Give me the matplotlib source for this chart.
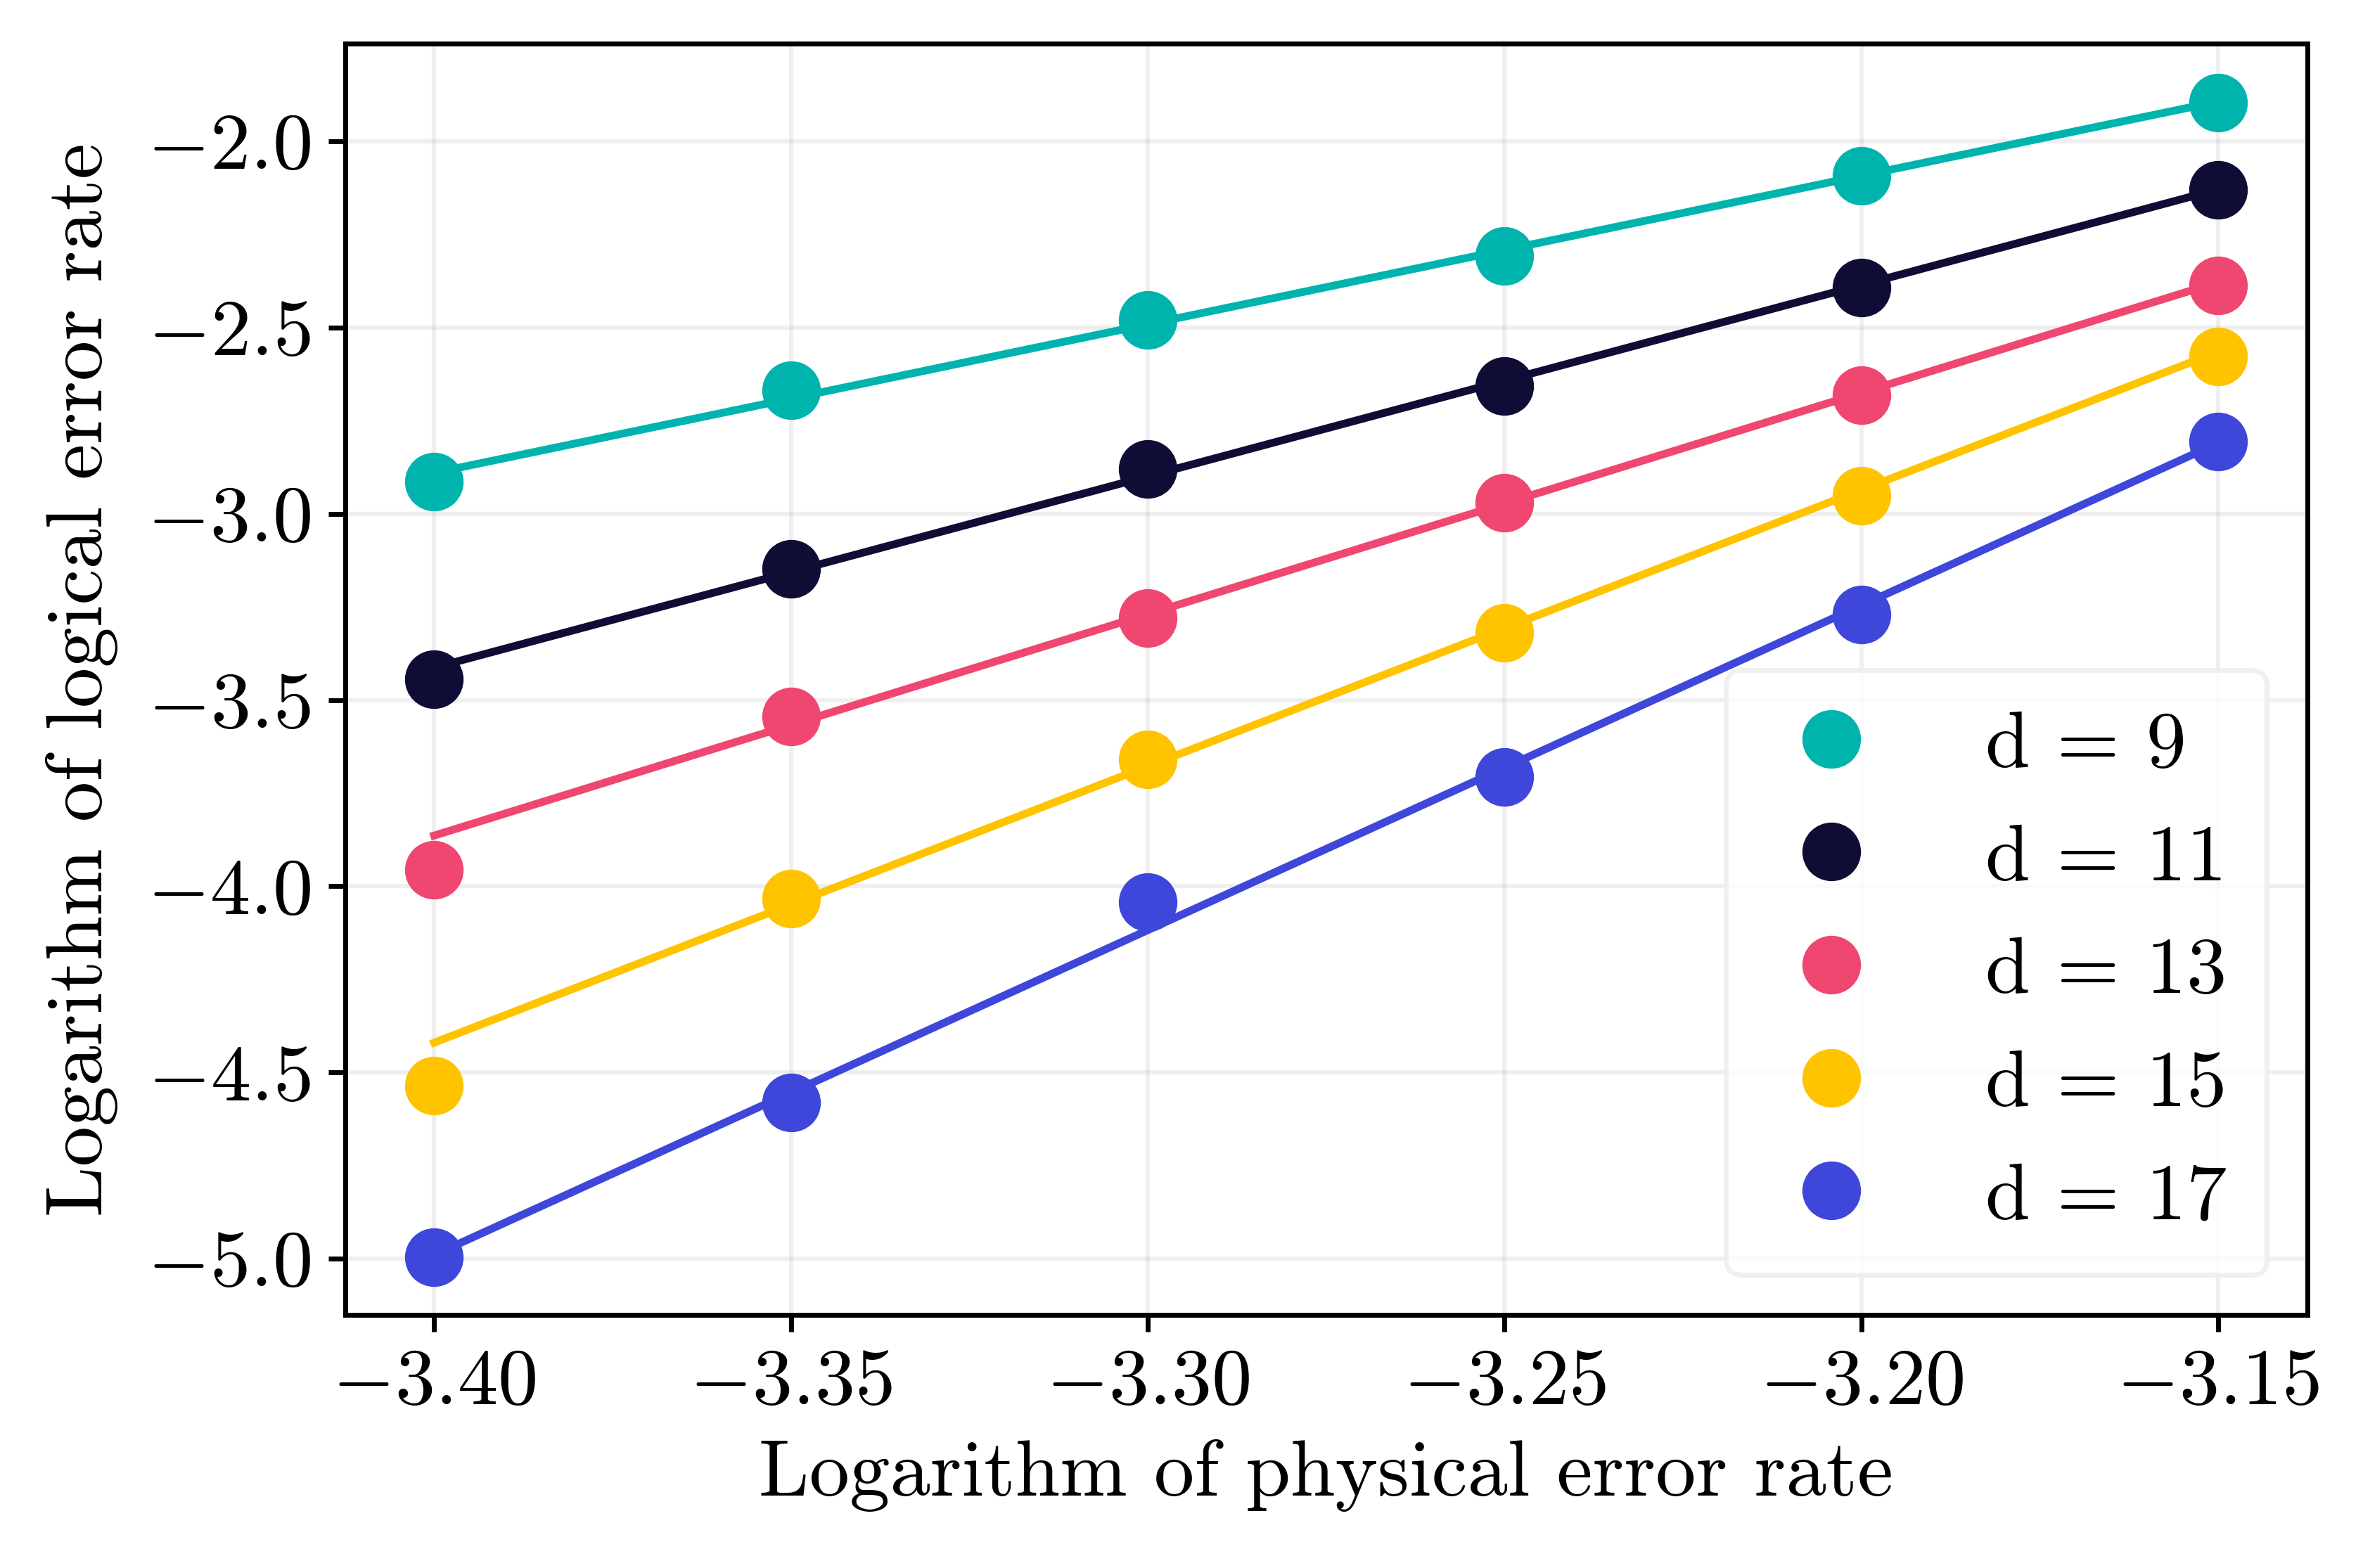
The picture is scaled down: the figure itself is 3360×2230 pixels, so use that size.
import numpy as np
import matplotlib
matplotlib.use("Agg")
import matplotlib.pyplot as plt

plt.rcParams['font.family'] = 'serif'
plt.rcParams['font.serif'] = ['cmr10']
plt.rcParams['mathtext.fontset'] = 'cm'
plt.rcParams['axes.formatter.use_mathtext'] = True
plt.rcParams['axes.unicode_minus'] = True

# Data
x = [-3.40, -3.35, -3.30, -3.25, -3.20, -3.15]
labels = ["d = 9", "d = 11", "d = 13", "d = 15", "d = 17"]
y_d9 = [-2.913, -2.669, -2.480, -2.307, -2.093, -1.896]
y_d11 = [-3.444, -3.147, -2.880, -2.656, -2.393, -2.131]
y_d13 = [-3.956, -3.544, -3.280, -2.971, -2.682, -2.387]
y_d15 = [-4.536, -4.033, -3.660, -3.320, -2.951, -2.578]
y_d17 = [-4.996, -4.580, -4.042, -3.707, -3.271, -2.807]
# fitted line values at x = -3.40 and x = -3.15
fit_x = [-3.40, -3.15]
fit_d9 = [-2.890, -1.893]
fit_d11 = [-3.413, -2.129]
fit_d13 = [-3.864, -2.378]
fit_d15 = [-4.420, -2.565]
fit_d17 = [-4.990, -2.810]
colors = ["#00B4AE", "#0F0D35", "#EF476F", "#FFC300", "#3E47D9"]

series = [y_d9, y_d11, y_d13, y_d15, y_d17]
fits = [fit_d9, fit_d11, fit_d13, fit_d15, fit_d17]

FS = 16.5
fig = plt.figure(figsize=(6.72, 4.46), dpi=500)
ax = fig.add_axes([0.146, 0.1614, 0.8304, 0.8107])

for ys, fy, c, lab in zip(series, fits, colors, labels):
    ax.plot(fit_x, fy, color=c, lw=1.6, zorder=2)
    ax.plot(x, ys, 'o', color=c, markersize=11, label=lab, zorder=3, linestyle='none')

ax.grid(True, color='#b0b0b0', alpha=0.2, lw=0.9)
ax.set_axisbelow(True)
ax.set_xticks([-3.40, -3.35, -3.30, -3.25, -3.20, -3.15])
ax.set_xticklabels([r"$-3.40$", r"$-3.35$", r"$-3.30$", r"$-3.25$", r"$-3.20$", r"$-3.15$"])
ax.set_yticks([-5.0, -4.5, -4.0, -3.5, -3.0, -2.5, -2.0])
ax.set_yticklabels([r"$-5.0$", r"$-4.5$", r"$-4.0$", r"$-3.5$", r"$-3.0$", r"$-2.5$", r"$-2.0$"])
ax.tick_params(labelsize=FS, width=1.0, length=3.5)
for s in ax.spines.values():
    s.set_linewidth(1.0)
ax.set_xlabel("Logarithm of physical error rate", fontsize=FS, labelpad=4)
ax.set_ylabel("Logarithm of logical error rate", fontsize=FS, labelpad=6)

leg = ax.legend(loc='lower right', fontsize=FS, handlelength=1.62, handletextpad=1.1,
                labelspacing=0.51, borderpad=0.5, framealpha=0.8, edgecolor='#ededed',
                fancybox=True)

fig.savefig("out.png", dpi=500)
